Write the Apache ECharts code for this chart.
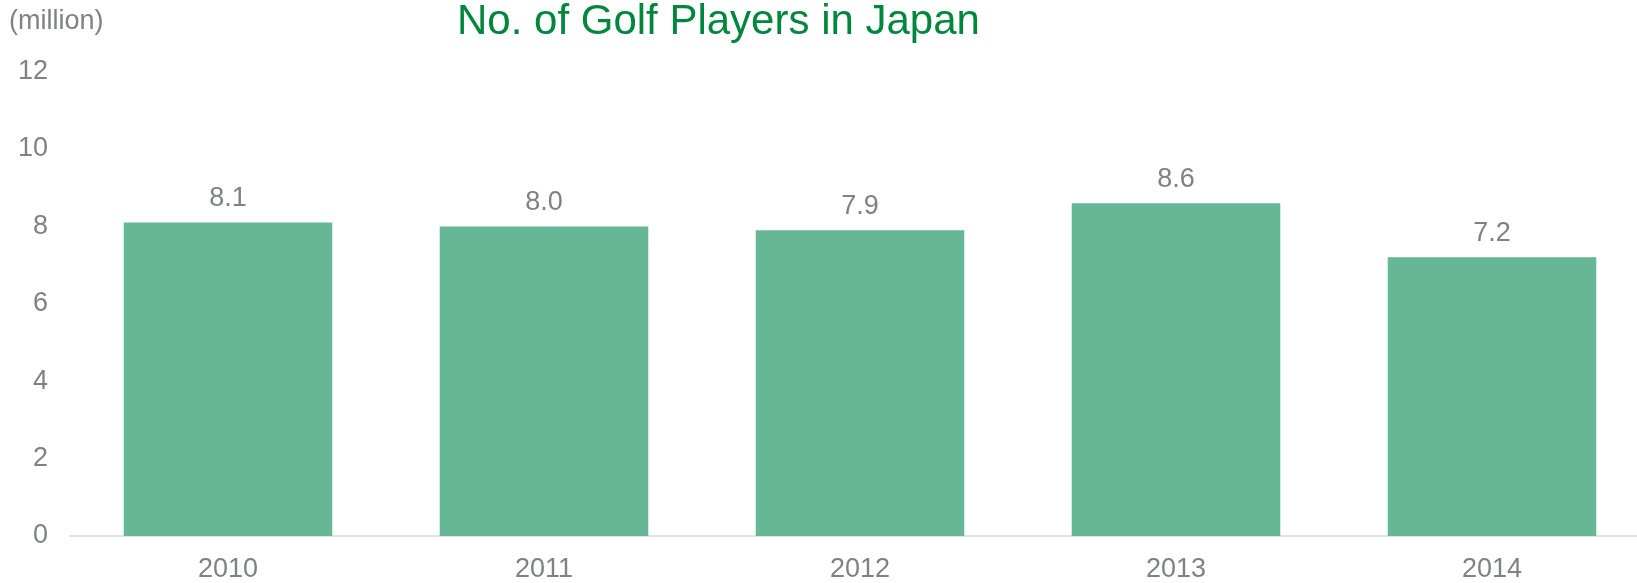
<!DOCTYPE html>
<html>
<head>
<meta charset="utf-8">
<title>No. of Golf Players in Japan</title>
<script src="https://cdn.jsdelivr.net/npm/echarts@6/dist/echarts.min.js"></script>
<style>
  html, body { margin: 0; padding: 0; background: #ffffff; overflow: hidden; }
  /* the plot runs a little past the right edge of the window, so the canvas is wider */
  #chart { width: 1650px; height: 583px; }
</style>
</head>
<body>
<div id="chart"></div>
<script>
// Golf players in Japan by year, in millions
const years = ['2010', '2011', '2012', '2013', '2014'];
const players = [8.1, 8.0, 7.9, 8.6, 7.2];
const yTicks = { min: 0, max: 12, interval: 2 };

const FONT = '"Liberation Sans", Arial, sans-serif';
const GRAY = '#7f8186';

const chart = echarts.init(document.getElementById('chart'), null, { renderer: 'canvas' });

chart.setOption({
  animation: false,
  backgroundColor: '#ffffff',
  textStyle: { fontFamily: FONT },
  title: [
    {
      text: 'No. of Golf Players in Japan',
      left: 452,
      top: -4,
      textStyle: { color: '#00873d', fontSize: 42, fontWeight: 'normal', fontFamily: FONT }
    },
    {
      text: '(million)',
      left: 4,
      top: 3,
      textStyle: { color: GRAY, fontSize: 27, fontWeight: 'normal', fontFamily: FONT }
    }
  ],
  grid: { left: 70, right: 0, top: 71.6, bottom: 47, containLabel: false },
  xAxis: {
    type: 'category',
    data: years,
    axisLine: { show: true, lineStyle: { color: '#d9d9d9', width: 1.5 } },
    axisTick: { show: false },
    axisLabel: { color: GRAY, fontSize: 27, margin: 20, fontFamily: FONT },
    splitLine: { show: false }
  },
  yAxis: {
    type: 'value',
    min: yTicks.min,
    max: yTicks.max,
    interval: yTicks.interval,
    axisLine: { show: false },
    axisTick: { show: false },
    splitLine: { show: false },
    axisLabel: { color: GRAY, fontSize: 27, margin: 22, fontFamily: FONT }
  },
  series: [
    {
      type: 'bar',
      data: players,
      barCategoryGap: '34%',
      itemStyle: { color: '#66b795' },
      label: {
        show: true,
        position: 'top',
        distance: 10,
        color: GRAY,
        fontSize: 27,
        fontFamily: FONT,
        formatter: p => p.value.toFixed(1)
      }
    }
  ]
});
</script>
</body>
</html>
